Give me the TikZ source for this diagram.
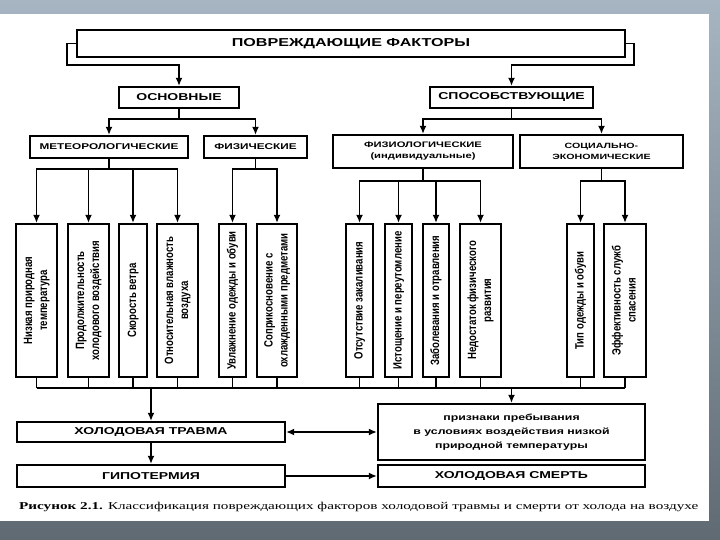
\documentclass[tikz,border=0pt]{standalone}
\usepackage{fontspec}
\usepackage{graphicx}
\setmainfont{Liberation Serif}
\newfontfamily\boxfont[FakeStretch=1.4]{Liberation Sans}
\newfontfamily\vfont[FakeStretch=0.8]{Liberation Sans}
\usetikzlibrary{arrows.meta,calc}
\definecolor{frametop}{HTML}{A7B5C2}
\definecolor{framebot}{HTML}{5F6A73}
\newcommand{\vtext}[1]{\rotatebox{90}{\vfont\bfseries\fontsize{12}{15}\selectfont\begin{tabular}{@{}c@{}}#1\end{tabular}}}
\begin{document}
\begin{tikzpicture}[x=1pt,y=-1pt,
  box/.style={draw, line width=2.2pt, fill=white, inner sep=0pt, align=center, font=\boxfont\bfseries},
  vbox/.style={draw, line width=2.2pt, fill=white, inner sep=0pt, minimum height=153pt},
  ln/.style={line width=1.9pt},
  arr/.style={-{Latex[length=8pt,width=7pt]}},
  arrs/.style={{Latex[length=8pt,width=7pt]}-{Latex[length=8pt,width=7pt]}}]
\useasboundingbox (0,0) rectangle (720,540);
\shade[top color=frametop, bottom color=framebot] (0,0) rectangle (720,540);
\fill[white] (0,14) rectangle (709,521);

% top levels
\node[box, minimum width=548pt, minimum height=27pt, font=\boxfont\bfseries\fontsize{11.5}{13}\selectfont] (top) at (351,43.5) {ПОВРЕЖДАЮЩИЕ ФАКТОРЫ};
\node[box, minimum width=120pt, minimum height=21pt, font=\boxfont\bfseries\fontsize{10}{12}\selectfont] (osn) at (179,97.5) {ОСНОВНЫЕ};
\node[box, minimum width=163pt, minimum height=21pt, font=\boxfont\bfseries\fontsize{10}{12}\selectfont] (spo) at (511.5,97.5) {СПОСОБСТВУЮЩИЕ};
\node[box, minimum width=158pt, minimum height=22pt, font=\boxfont\bfseries\fontsize{8.4}{10}\selectfont] (met) at (109,147) {МЕТЕОРОЛОГИЧЕСКИЕ};
\node[box, minimum width=103pt, minimum height=22pt, font=\boxfont\bfseries\fontsize{8.4}{10}\selectfont] (fiz) at (255.5,147) {ФИЗИЧЕСКИЕ};
\node[box, minimum width=180pt, minimum height=33pt, font=\boxfont\bfseries\fontsize{8}{11}\selectfont] (fzl) at (423,151.5) {ФИЗИОЛОГИЧЕСКИЕ\\(индивидуальные)};
\node[box, minimum width=163pt, minimum height=33pt, font=\boxfont\bfseries\fontsize{7.6}{11}\selectfont] (soc) at (601.5,151.5) {СОЦИАЛЬНО-\\ЭКОНОМИЧЕСКИЕ};

% factor boxes
\node[vbox, minimum width=41pt] (c1) at (36.5,300.5) {\vtext{Низкая природная\\температура}};
\node[vbox, minimum width=41pt] (c2) at (88.5,300.5) {\vtext{Продолжительность\\холодового воздействия}};
\node[vbox, minimum width=28pt] (c3) at (133,300.5) {\vtext{Скорость ветра}};
\node[vbox, minimum width=41pt] (c4) at (177.5,300.5) {\vtext{Относительная влажность\\воздуха}};
\node[vbox, minimum width=27pt] (c5) at (232.5,300.5) {\vtext{Увлажнение одежды и обуви}};
\node[vbox, minimum width=40pt] (c6) at (277,300.5) {\vtext{Соприкосновение с\\охлажденными предметами}};
\node[vbox, minimum width=27pt] (c7) at (359.5,300.5) {\vtext{Отсутствие закаливания}};
\node[vbox, minimum width=27pt] (c8) at (398.5,300.5) {\vtext{Истощение и переутомление}};
\node[vbox, minimum width=26pt] (c9) at (436,300.5) {\vtext{Заболевания и отравления}};
\node[vbox, minimum width=41pt] (c10) at (480.5,300.5) {\vtext{Недостаток физического\\развития}};
\node[vbox, minimum width=27pt] (c11) at (580.5,300.5) {\vtext{Тип одежды и обуви}};
\node[vbox, minimum width=42pt] (c12) at (625,300.5) {\vtext{Эффективность служб\\спасения}};

% outcome boxes
\node[box, minimum width=268pt, minimum height=20pt, font=\boxfont\bfseries\fontsize{10}{12}\selectfont] (tr) at (151,432) {ХОЛОДОВАЯ ТРАВМА};
\node[box, minimum width=268pt, minimum height=22pt, font=\boxfont\bfseries\fontsize{10}{12}\selectfont] (gi) at (151,476) {ГИПОТЕРМИЯ};
\node[box, minimum width=267pt, minimum height=56pt, font=\boxfont\bfseries\fontsize{8.8}{14}\selectfont] (pr) at (511.5,432) {признаки пребывания\\в условиях воздействия низкой\\природной температуры};
\node[box, minimum width=267pt, minimum height=22pt, font=\boxfont\bfseries\fontsize{10}{12}\selectfont] (sm) at (511.5,476) {ХОЛОДОВАЯ СМЕРТЬ};

% caption
\node[anchor=west, inner sep=0pt] (cap) at (19,507) {\resizebox{679pt}{\height}{\fontsize{10.5}{12}\selectfont\textbf{Рисунок 2.1.} Классификация повреждающих факторов холодовой травмы и смерти от холода на воздухе}};

% connectors: top
\coordinate (y65) at (0,65);
\draw[ln,arr] (top.west) -- ++(-9,0) |- (osn.north |- y65) -- (osn.north);
\draw[ln,arr] (top.east) -- ++(8,0) |- (spo.north |- y65) -- (spo.north);

% level 2
\draw[ln,arr] (osn.south) -- ++(0,10) -| (met.north);
\draw[ln,arr] (osn.south) -- ++(0,10) -| (fiz.north);
\draw[ln,arr] (spo.south) -- ++(0,10) -| (fzl.north);
\draw[ln,arr] (spo.south) -- ++(0,10) -| (soc.north);

% level 3
\foreach \c in {c1,c2,c3,c4} \draw[ln,arr] (met.south) -- ++(0,10) -| (\c.north);
\foreach \c in {c5,c6} \draw[ln,arr] (fiz.south) -- ++(0,10) -| (\c.north);
\foreach \c in {c7,c8,c9,c10} \draw[ln,arr] (fzl.south) -- ++(0,12) -| (\c.north);
\foreach \c in {c11,c12} \draw[ln,arr] (soc.south) -- ++(0,12) -| (\c.north);

% bottom bus
\coordinate (yb) at (0,388);
\foreach \c in {c1,c2,c3,c4,c5,c6,c7,c8,c9,c10,c11,c12} \draw[ln] (\c.south) -- (\c.south |- yb);
\draw[ln] (c1.south |- yb) -- (c12.south |- yb);
\draw[ln,arr] (tr.north |- yb) -- (tr.north);
\draw[ln,arr] (pr.north |- yb) -- (pr.north);

% outcomes
\draw[ln,arr] (tr.south) -- (gi.north);
\draw[ln,arrs] (tr.east) -- (pr.west |- tr.east);
\draw[ln,arr] (gi.east) -- (sm.west |- gi.east);
\end{tikzpicture}
\end{document}
